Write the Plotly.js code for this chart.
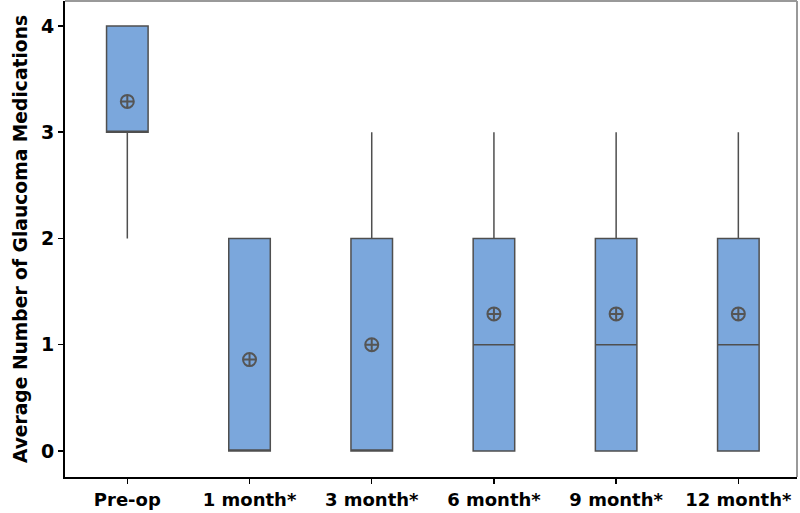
<!DOCTYPE html>
<html>
<head>
<meta charset="utf-8">
<script src="https://cdn.plot.ly/plotly-3.0.1.min.js"></script>
<style>html,body{margin:0;padding:0;background:#fff;}#chart{width:800px;height:513px;}</style>
</head>
<body>
<div id="chart"></div>
<script>
var categories = ["Pre-op", "1 month*", "3 month*", "6 month*", "9 month*", "12 month*"];
var q1Values = [3, 0, 0, 0, 0, 0];
var medianValues = [3, 0, 0, 1, 1, 1];
var q3Values = [4, 2, 2, 2, 2, 2];
var lowerWhisker = [2, 0, 0, 0, 0, 0];
var upperWhisker = [4, 2, 3, 3, 3, 3];
var meanValues = [3.29, 0.86, 1.0, 1.29, 1.29, 1.29];
var yTickValues = [0, 1, 2, 3, 4];

var fontFamily = "'DejaVu Sans', 'Liberation Sans', Arial, sans-serif";

var boxTrace = {
  type: "box",
  x: categories,
  q1: q1Values,
  median: medianValues,
  q3: q3Values,
  lowerfence: lowerWhisker,
  upperfence: upperWhisker,
  boxpoints: false,
  width: 0.34,
  fillcolor: "#7ba7dc",
  line: {color: "#4f4f4f", width: 1.5},
  whiskerwidth: 0,
  showlegend: false,
  hoverinfo: "skip"
};

var meanTrace = {
  type: "scatter",
  mode: "markers",
  x: categories,
  y: meanValues,
  marker: {symbol: "circle-cross-open", size: 13, color: "#555555", line: {width: 2, color: "#555555"}},
  showlegend: false,
  hoverinfo: "skip"
};

var layout = {
  width: 800,
  height: 513,
  margin: {l: 65, r: 3, t: 1, b: 36},
  paper_bgcolor: "#ffffff",
  plot_bgcolor: "#ffffff",
  font: {family: fontFamily, color: "#000000"},
  xaxis: {
    type: "category",
    range: [-0.51, 5.48],
    showgrid: false,
    zeroline: false,
    showline: true,
    linecolor: "#000000",
    linewidth: 2,
    ticks: "outside",
    ticklen: 5,
    tickwidth: 1.5,
    tickcolor: "#000000",
    tickfont: {family: fontFamily, size: 18, color: "#000000", weight: "bold"}
  },
  yaxis: {
    range: [-0.245, 4.235],
    tickvals: yTickValues,
    ticktext: yTickValues.map(String),
    showgrid: false,
    zeroline: false,
    showline: true,
    linecolor: "#000000",
    linewidth: 2,
    ticks: "outside",
    ticklen: 5,
    tickwidth: 1.5,
    tickcolor: "#000000",
    tickfont: {family: fontFamily, size: 19, color: "#000000", weight: "bold"},
    title: {text: "Average Number of Glaucoma Medications", font: {family: fontFamily, size: 18.7, color: "#000000", weight: "bold"}, standoff: 8}
  },
  shapes: [
    {type: "line", xref: "paper", yref: "paper", x0: 0, x1: 1, y0: 1, y1: 1, line: {color: "#999999", width: 2}},
    {type: "line", xref: "paper", yref: "paper", x0: 1, x1: 1, y0: 0, y1: 1, line: {color: "#999999", width: 2}}
  ]
};

Plotly.newPlot("chart", [boxTrace, meanTrace], layout, {displayModeBar: false, staticPlot: true});
</script>
</body>
</html>
